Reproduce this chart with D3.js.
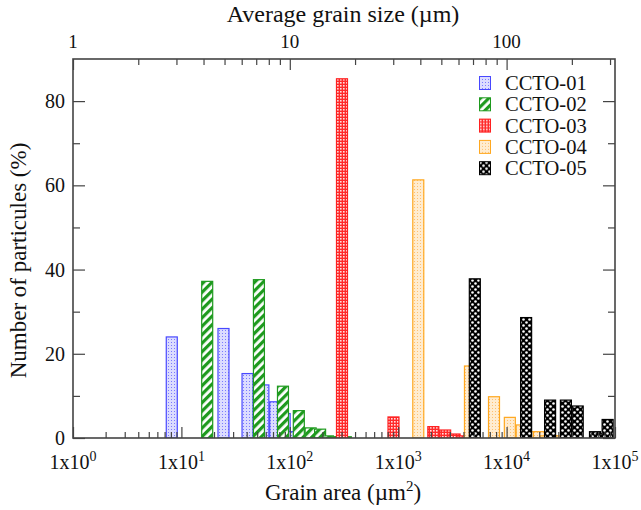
<!DOCTYPE html>
<html>
<head>
<meta charset="utf-8">
<script src="https://cdn.jsdelivr.net/npm/d3@7"></script>
<style>
  body { margin: 0; background: #fff; }
  svg { display: block; }
</style>
</head>
<body>
<svg id="chart" width="641" height="510"></svg>
<script>
// data: bin centre (grain area, um^2) and percentage
const names = ["CCTO-01", "CCTO-02", "CCTO-03", "CCTO-04", "CCTO-05"];

const area01 = [8.15, 24.45, 40.75, 57.05, 73.35, 89.65, 105.95];
const pct01  = [24, 26, 15.3, 12.6, 8.6, 5.8, 1.5];

const area02 = [17.3, 51.9, 86.5, 121.1, 155.7, 190.3, 224.9, 259.5, 294.1, 328.7];
const pct02  = [37.2, 37.6, 12.3, 6.5, 2.4, 2.1, 0.5, 0.3, 0.3, 0.3];

const area03 = [303, 905, 1507, 2109, 2711, 3313, 3915];
const pct03  = [85.3, 5, 0, 2.7, 1.9, 0.95, 0.5];

const area04 = [1532, 4592, 7652, 10712, 13772, 16832, 19892, 22952, 26012, 29072];
const pct04  = [61.3, 17.1, 9.8, 4.9, 3.1, 1.5, 1.5, 0.5, 0.5, 0.5];

const area05 = [5091, 15140, 25190, 35240, 45290, 55340, 65390, 75440, 85490, 95540];
const pct05  = [37.8, 28.6, 9.0, 9.0, 7.6, 0, 1.5, 1, 4.4, 0];

const yMajor = [0, 20, 40, 60, 80];
const yMinor = [10, 30, 50, 70];
const xMajorExp = [0, 1, 2, 3, 4, 5];
const sizeMajor = [1, 10, 100];

const svg = d3.select("#chart")
  .attr("font-family", "'Liberation Serif', 'Times New Roman', 'DejaVu Serif', serif");
const pLeft = 73, pRight = 615, pTop = 59, pBottom = 438;

let x = d3.scaleLog().domain([1, 1e5]).range([pLeft, pRight]);
let y = d3.scaleLinear().domain([0, 90]).range([pBottom, pTop]);

// fill patterns, one per series
const defs = svg.append("defs");

let p1 = defs.append("pattern").attr("id", "pat1").attr("patternUnits", "userSpaceOnUse")
  .attr("width", 3).attr("height", 3);
p1.append("rect").attr("width", 3).attr("height", 3).attr("fill", "#dcdcff");
p1.append("rect").attr("width", 1).attr("height", 1).attr("fill", "#7a7aff");

let p2 = defs.append("pattern").attr("id", "pat2").attr("patternUnits", "userSpaceOnUse")
  .attr("width", 6).attr("height", 6).attr("patternTransform", "rotate(45)");
p2.append("rect").attr("width", 6).attr("height", 6).attr("fill", "#fff");
p2.append("rect").attr("width", 3.2).attr("height", 6).attr("fill", "#1e9a1e");

let p3 = defs.append("pattern").attr("id", "pat3").attr("patternUnits", "userSpaceOnUse")
  .attr("width", 3).attr("height", 3);
p3.append("rect").attr("width", 3).attr("height", 3).attr("fill", "#ff2a2a");
p3.append("rect").attr("x", 1).attr("y", 1).attr("width", 1.6).attr("height", 1.6).attr("fill", "#ffe0e0");

let p4 = defs.append("pattern").attr("id", "pat4").attr("patternUnits", "userSpaceOnUse")
  .attr("width", 3).attr("height", 3);
p4.append("rect").attr("width", 3).attr("height", 3).attr("fill", "#ffecd0");
p4.append("rect").attr("width", 1).attr("height", 1).attr("fill", "#ffc070");

let p5 = defs.append("pattern").attr("id", "pat5").attr("patternUnits", "userSpaceOnUse")
  .attr("width", 6).attr("height", 6);
p5.append("rect").attr("width", 6).attr("height", 6).attr("fill", "#000");
p5.append("circle").attr("cx", 1.5).attr("cy", 1.5).attr("r", 1.3).attr("fill", "#fff");
p5.append("circle").attr("cx", 4.5).attr("cy", 4.5).attr("r", 1.3).attr("fill", "#fff");

defs.append("clipPath").attr("id", "plotclip")
  .append("rect").attr("x", pLeft).attr("y", pTop).attr("width", pRight - pLeft).attr("height", pBottom - pTop);

const series = [
  { name: names[0], area: area01, pct: pct01, fill: "url(#pat1)", stroke: "#4848ff" },
  { name: names[1], area: area02, pct: pct02, fill: "url(#pat2)", stroke: "#1e9a1e" },
  { name: names[2], area: area03, pct: pct03, fill: "url(#pat3)", stroke: "#ff2020" },
  { name: names[3], area: area04, pct: pct04, fill: "url(#pat4)", stroke: "#ffa820" },
  { name: names[4], area: area05, pct: pct05, fill: "url(#pat5)", stroke: "#000" }
];

const barW = 12;
let bars = svg.append("g").attr("clip-path", "url(#plotclip)");

series.forEach((s) => {
  let rows = s.area.map((a, i) => ({ a: a, v: s.pct[i] }));
  bars.append("g").selectAll("rect")
    .data(rows)
    .join("rect")
    .attr("x", (d) => x(d.a) - barW / 2 + 0.5)
    .attr("y", (d) => y(d.v))
    .attr("width", barW - 1)
    .attr("height", (d) => y(0) - y(d.v))
    .attr("fill", s.fill)
    .attr("stroke", s.stroke)
    .attr("stroke-width", 1.2);
});

// ticks (all point inwards)
const axisColor = "#444";
let xAll = x.ticks();
let xMajorVals = xMajorExp.map((e) => Math.pow(10, e));
let xMinorVals = xAll.filter((v) => !xMajorVals.includes(v));

function styleAxis(g) {
  g.select(".domain").remove();
  g.selectAll("line").attr("stroke", axisColor).attr("stroke-width", 1.2);
}

svg.append("g").attr("transform", `translate(0,${pBottom})`)
  .call(d3.axisBottom(x).tickValues(xMinorVals).tickSize(-6).tickFormat(""))
  .call(styleAxis);
svg.append("g").attr("transform", `translate(0,${pBottom})`)
  .call(d3.axisBottom(x).tickValues(xMajorVals).tickSize(-11).tickFormat(""))
  .call(styleAxis);

// top axis: average grain size d, area = d^2
let sizeAll = d3.range(1, 10).concat(d3.range(10, 100, 10), d3.range(100, 400, 100))
  .filter((d) => d * d <= 1e5);
let sizeMinor = sizeAll.filter((d) => !sizeMajor.includes(d));
svg.append("g").attr("transform", `translate(0,${pTop})`)
  .call(d3.axisTop(x).tickValues(sizeMinor.map((d) => d * d)).tickSize(-6).tickFormat(""))
  .call(styleAxis);
svg.append("g").attr("transform", `translate(0,${pTop})`)
  .call(d3.axisTop(x).tickValues(sizeMajor.map((d) => d * d)).tickSize(-11).tickFormat(""))
  .call(styleAxis);

[[pLeft, d3.axisLeft], [pRight, d3.axisRight]].forEach(([px, ax]) => {
  svg.append("g").attr("transform", `translate(${px},0)`)
    .call(ax(y).tickValues(yMajor).tickSize(-12).tickFormat(""))
    .call(styleAxis);
  svg.append("g").attr("transform", `translate(${px},0)`)
    .call(ax(y).tickValues(yMinor).tickSize(-7).tickFormat(""))
    .call(styleAxis);
});

// frame
svg.append("rect")
  .attr("x", pLeft).attr("y", pTop)
  .attr("width", pRight - pLeft).attr("height", pBottom - pTop)
  .attr("fill", "none").attr("stroke", axisColor).attr("stroke-width", 1.6);

// tick labels
svg.append("g").selectAll("text")
  .data(yMajor)
  .join("text")
  .attr("x", pLeft - 8)
  .attr("y", (d) => y(d) + 7)
  .attr("text-anchor", "end")
  .attr("font-size", 20)
  .attr("fill", "#111")
  .text((d) => d);

let xl = svg.append("g").selectAll("text")
  .data(xMajorExp)
  .join("text")
  .attr("x", (d) => x(Math.pow(10, d)))
  .attr("y", pBottom + 31)
  .attr("text-anchor", "middle")
  .attr("font-size", 20)
  .attr("fill", "#111");
xl.append("tspan").text("1x10");
xl.append("tspan").attr("dy", -8).attr("font-size", 14).text((d) => d);

svg.append("g").selectAll("text")
  .data(sizeMajor)
  .join("text")
  .attr("x", (d) => x(d * d))
  .attr("y", pTop - 11)
  .attr("text-anchor", "middle")
  .attr("font-size", 19)
  .attr("fill", "#111")
  .text((d) => d);

// axis titles
let xt = svg.append("text")
  .attr("x", 343)
  .attr("y", 500)
  .attr("text-anchor", "middle")
  .attr("font-size", 23)
  .attr("fill", "#111");
xt.append("tspan").text("Grain area (\u00b5m");
xt.append("tspan").attr("dy", -9).attr("font-size", 15).text("2");
xt.append("tspan").attr("dy", 9).text(")");

svg.append("text")
  .attr("x", 343)
  .attr("y", 22)
  .attr("text-anchor", "middle")
  .attr("font-size", 24)
  .attr("fill", "#111")
  .text("Average grain size (\u00b5m)");

svg.append("text")
  .attr("transform", `translate(26,${(pTop + pBottom) / 2 + 12}) rotate(-90)`)
  .attr("text-anchor", "middle")
  .attr("font-size", 23)
  .attr("fill", "#111")
  .text("Number of particules (%)");

// legend
let legend = svg.append("g").attr("transform", "translate(479,76)");
series.forEach((s, idx) => {
  let row = legend.append("g").attr("transform", `translate(0,${idx * 21.3})`);
  row.append("rect")
    .attr("x", 0.5).attr("y", 0.5)
    .attr("width", 11).attr("height", 13)
    .attr("fill", s.fill).attr("stroke", s.stroke).attr("stroke-width", 1);
  row.append("text")
    .attr("x", 26).attr("y", 14)
    .attr("font-size", 20.5)
    .attr("fill", "#111")
    .text(s.name);
});
</script>
</body>
</html>
